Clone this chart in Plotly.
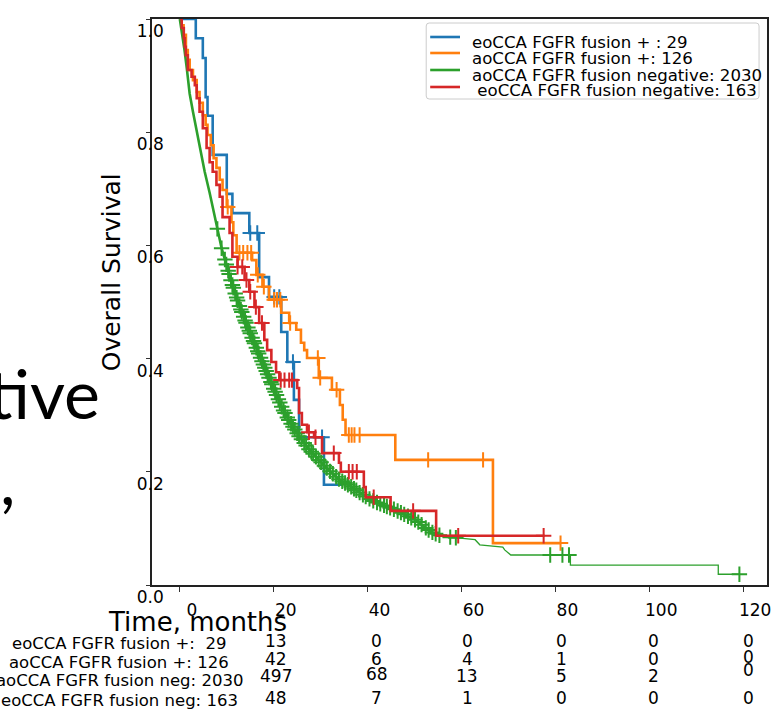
import numpy as np
import plotly.graph_objects as go

# ---------------- data ----------------
series_names = ["eoCCA FGFR fusion + : 29", "aoCCA FGFR fusion +: 126",
                "aoCCA FGFR fusion negative: 2030", " eoCCA FGFR fusion negative: 163"]

blue_t = [0, 3.4, 4.9, 5.5, 5.9, 7.0, 10.0, 11.2, 14.8, 16.9, 19.0, 21.6, 22.9, 24.3, 25.4, 30.7, 34.5]
blue_s = [1.0, 0.966, 0.931, 0.862, 0.829, 0.760, 0.691, 0.657, 0.622, 0.544, 0.509, 0.447, 0.394,
          0.327, 0.261, 0.177, 0.177]
blue_cens = [15.0, 16.5, 20.1, 21.2, 24.1, 30.3]

orange_t = [0, 0.4, 0.8, 1.3, 1.7, 2.1, 2.8, 3.6, 4.2, 4.9, 5.5, 5.9, 6.6, 7.2, 7.8, 8.5, 9.1, 10.0,
            11.0, 11.4, 12.1, 15.4, 16.3, 17.6, 19.0, 21.6, 23.3, 24.8, 25.8, 26.5, 27.1, 29.6, 32.4,
            34.1, 34.7, 35.3, 45.9, 66.7, 81.1]
orange_s = [1.0, 0.989, 0.972, 0.945, 0.928, 0.910, 0.892, 0.871, 0.852, 0.830, 0.813, 0.795, 0.777,
            0.754, 0.737, 0.716, 0.698, 0.668, 0.641, 0.618, 0.587, 0.574, 0.548, 0.527, 0.504, 0.481,
            0.463, 0.451, 0.428, 0.415, 0.401, 0.366, 0.345, 0.318, 0.292, 0.265, 0.221, 0.074, 0.074]
orange_cens = [10.2, 12.7, 13.5, 14.4, 15.2, 16.6, 17.9, 20.1, 20.7, 21.4, 23.5, 29.4, 29.9, 33.4,
               36.0, 36.6, 37.2, 38.3, 52.9, 64.6, 81.1]

green_t = [0, 0.5, 1.0, 1.5, 2.1, 2.8, 3.6, 4.4, 5.3, 6.35, 7.4, 8.9, 9.95, 11.2, 12.7, 14.2, 14.8,
           16.5, 18.4, 20.1, 21.8, 23.3, 25.4, 27.5, 29.6, 31.7, 33.9, 36.6, 38.7, 40.8, 43.4, 45.9,
           48.0, 50.2, 51.9, 53.5, 55.2, 57.1, 62.9, 63.9, 68.8, 69.2, 70.5, 83.2, 83.2, 114.7, 114.7,
           119.2]
green_s = [1.0, 0.975, 0.945, 0.912, 0.868, 0.836, 0.800, 0.765, 0.730, 0.693, 0.652, 0.595, 0.565,
           0.530, 0.493, 0.461, 0.449, 0.415, 0.378, 0.345, 0.313, 0.290, 0.263, 0.240, 0.221, 0.203,
           0.187, 0.173, 0.161, 0.150, 0.141, 0.133, 0.124, 0.115, 0.104, 0.094, 0.088, 0.085, 0.080,
           0.071, 0.067, 0.062, 0.053, 0.053, 0.035, 0.035, 0.019, 0.019]
green_cens = [8.0, 8.9, 9.6, 9.9, 10.3, 10.5, 10.9, 11.2, 11.4, 11.8, 12.1, 12.3, 12.7, 13.0, 13.2,
              13.6, 13.9, 14.1, 14.5, 14.8, 15.0, 15.4, 15.7, 15.9, 16.3, 16.6, 16.8, 17.2, 17.5, 17.8,
              18.1, 18.4, 18.7, 19.0, 19.4, 19.6, 20.0, 20.3, 20.6, 21.0, 21.3, 21.7, 22.1, 22.4, 22.9,
              23.2, 23.7, 24.1, 24.5, 25.0, 25.4, 25.9, 26.5, 26.9, 27.5, 28.0, 28.4, 29.0, 29.6, 30.1,
              30.8, 31.3, 32.0, 32.6, 33.3, 33.9, 34.6, 35.2, 35.8, 36.5, 37.1, 37.6, 38.3, 39.0, 39.6,
              40.4, 41.2, 42.0, 42.7, 43.5, 44.1, 44.8, 45.6, 46.4, 47.1, 47.8, 48.6, 49.3, 50.1, 50.8,
              51.5, 52.4, 53.0, 53.8, 54.5, 55.3, 57.6, 58.8, 78.9, 81.5, 82.9, 119.2]

red_t = [0, 0.4, 0.85, 1.06, 1.27, 1.7, 2.5, 3.2, 3.6, 4.2, 4.9, 5.7, 6.35, 7.0, 7.8, 8.5, 9.1, 10.6,
         11.2, 12.3, 13.8, 14.8, 15.9, 16.9, 18.0, 18.6, 19.5, 20.5, 21.2, 25.0, 25.4, 26.0, 27.1, 28.6,
         30.3, 33.9, 34.3, 39.2, 39.6, 44.9, 54.6, 77.7]
red_s = [1.0, 0.984, 0.966, 0.951, 0.936, 0.910, 0.898, 0.883, 0.860, 0.836, 0.807, 0.772, 0.747, 0.730,
         0.707, 0.686, 0.650, 0.622, 0.580, 0.562, 0.539, 0.518, 0.491, 0.463, 0.433, 0.415, 0.394,
         0.376, 0.362, 0.348, 0.304, 0.283, 0.270, 0.261, 0.233, 0.216, 0.200, 0.173, 0.155, 0.131,
         0.087, 0.087]
red_cens = [12.3, 13.3, 14.2, 15.0, 16.2, 17.5, 21.5, 22.3, 23.3, 23.9, 27.5, 28.9, 32.8, 36.0, 36.8,
            37.7, 41.3, 49.7, 59.3, 77.5]

x_ticks = [0, 20, 40, 60, 80, 100, 120]
y_ticks = [0.0, 0.2, 0.4, 0.6, 0.8, 1.0]
y_ticklabels = ["0.0", "0.2", "0.4", "0.6", "0.8", "1.0"]

risk_labels = ["eoCCA FGFR fusion +:\u00a0\u00a029", "aoCCA FGFR fusion +: 126",
               "aoCCA FGFR fusion neg: 2030", "eoCCA FGFR fusion neg: 163"]
risk_times = [20, 40, 60, 80, 100, 120]
risk_eo_pos = [13, 0, 0, 0, 0, 0]
risk_ao_pos = [42, 6, 4, 1, 0, 0]
risk_ao_neg = [497, 68, 13, 5, 2, 0]
risk_eo_neg = [48, 7, 1, 0, 0, 0]

# ---------------- styling / layout helpers ----------------
BLUE, ORANGE, GREEN, RED = "#1f77b4", "#ff7f0e", "#2ca02c", "#d62728"
FONT = "DejaVu Sans"
W, H = 782, 710
ML, MR, MT, MB = 152, 11, 19, 125
PW, PH = W - ML - MR, H - MT - MB


def fx(xpix):
    return (xpix - ML) / PW


def fy(ypix):
    return (H - MB - ypix) / PH


def step_lookup(ts, ss, tc):
    idx = np.searchsorted(np.array(ts), np.array(tc), side="right") - 1
    return [ss[i] for i in idx]


fig = go.Figure()


def add_line(t, s, color, width=2.6, shape="hv"):
    fig.add_trace(go.Scatter(x=t, y=s, mode="lines", line=dict(color=color, width=width, shape=shape),
                             showlegend=False, hoverinfo="skip"))


def add_cens(tc, sc, color):
    fig.add_trace(go.Scatter(x=tc, y=sc, mode="markers",
                             marker=dict(symbol="cross-thin", size=11, color=color,
                                         line=dict(color=color, width=2)),
                             showlegend=False, hoverinfo="skip"))


add_line(blue_t, blue_s, BLUE)
add_cens(blue_cens, step_lookup(blue_t, blue_s, blue_cens), BLUE)
add_line(orange_t, orange_s, ORANGE)
add_cens(orange_cens, step_lookup(orange_t, orange_s, orange_cens), ORANGE)
split = green_t.index(57.1)
add_line(green_t[:split + 1], green_s[:split + 1], GREEN, shape="linear")
add_line(green_t[split:], green_s[split:], GREEN, width=1.3, shape="linear")
add_cens(green_cens, list(np.interp(green_cens, green_t, green_s)), GREEN)
add_line(red_t, red_s, RED)
add_cens(red_cens, step_lookup(red_t, red_s, red_cens), RED)

ann = []
shapes = []

# manual legend box
lx0, lx1, ly0, ly1, r = fx(428), fx(763), fy(99), fy(23), 3
rx, ry = r / PW, r / PH
path = (f"M {lx0+rx},{ly1} L {lx1-rx},{ly1} Q {lx1},{ly1} {lx1},{ly1-ry} "
        f"L {lx1},{ly0+ry} Q {lx1},{ly0} {lx1-rx},{ly0} L {lx0+rx},{ly0} "
        f"Q {lx0},{ly0} {lx0},{ly0+ry} L {lx0},{ly1-ry} Q {lx0},{ly1} {lx0+rx},{ly1} Z")
shapes.append(dict(type="path", xref="paper", yref="paper", path=path,
                   line=dict(color="#cccccc", width=1), fillcolor="rgba(255,255,255,0.85)"))
leg_line_y = [37, 53, 70, 87]
leg_text_y = [43, 59, 75, 90]
for name, col, yl, yt in zip(series_names, [BLUE, ORANGE, GREEN, RED], leg_line_y, leg_text_y):
    shapes.append(dict(type="line", xref="paper", yref="paper", x0=fx(432), x1=fx(462),
                       y0=fy(yl), y1=fy(yl), line=dict(color=col, width=2.6)))
    ann.append(dict(text=name.replace(" ", "\u00a0") if name.startswith(" ") else name,
                    xref="paper", yref="paper", x=fx(472), y=fy(yt),
                    xanchor="left", yanchor="middle", showarrow=False,
                    font=dict(family=FONT, size=16.6, color="black")))

# axis titles
ann.append(dict(text="Time, months", xref="paper", yref="paper", x=fx(198), y=fy(622),
                xanchor="center", yanchor="middle", showarrow=False,
                font=dict(family=FONT, size=26, color="black")))
ann.append(dict(text="Overall Survival", xref="paper", yref="paper", x=fx(111), y=fy(272),
                xanchor="center", yanchor="middle", showarrow=False, textangle=-90,
                font=dict(family=FONT, size=25, color="black")))

# at-risk table
label_y = [643, 662, 680, 700]
num_y = [641, 659, 676, 698]
col_xshift = [2, 9, 6, 6, 4, 5]
y_override = {(5, 1): 657, (5, 2): 670, (1, 2): 674}
for r_i, (lab, counts) in enumerate(zip(risk_labels, [risk_eo_pos, risk_ao_pos, risk_ao_neg, risk_eo_neg])):
    ann.append(dict(text=lab, xref="paper", yref="paper", x=fx(119), y=fy(label_y[r_i]),
                    xanchor="center", yanchor="middle", showarrow=False,
                    font=dict(family=FONT, size=16.5, color="black")))
    for c_i, (tt, cnt) in enumerate(zip(risk_times, counts)):
        yy = y_override.get((c_i, r_i), num_y[r_i])
        ann.append(dict(text=str(cnt), xref="x", yref="paper", x=tt, xshift=col_xshift[c_i],
                        y=fy(yy), xanchor="center", yanchor="middle", showarrow=False,
                        font=dict(family=FONT, size=17, color="black")))

# slide text fragments at the left edge
ann.append(dict(text="tive", xref="paper", yref="paper", x=fx(102), y=fy(392),
                xanchor="right", yanchor="middle", showarrow=False,
                font=dict(family="Lato", size=68, color="black")))
ann.append(dict(text=",", xref="paper", yref="paper", x=fx(16), y=fy(478),
                xanchor="right", yanchor="middle", showarrow=False,
                font=dict(family="Lato", size=68, color="black")))

fig.update_layout(
    width=W, height=H, margin=dict(l=ML, r=MR, t=MT, b=MB, pad=0),
    paper_bgcolor="white", plot_bgcolor="white",
    annotations=ann, shapes=shapes, showlegend=False,
    xaxis=dict(range=[(ML - 180) / 4.725, (W - MR - 180) / 4.725], tickvals=x_ticks,
               ticks="outside", ticklen=5, tickwidth=1.3, tickcolor="#333",
               showline=True, linecolor="#222", linewidth=1.5, mirror=True,
               showgrid=False, zeroline=False, ticklabelshift=12, ticklabelstandoff=4,
               ticklabeloverflow="allow",
               tickfont=dict(family=FONT, size=17, color="black")),
    yaxis=dict(range=[0, 1], tickvals=y_ticks, ticktext=y_ticklabels,
               ticks="outside", ticklen=4, tickwidth=1.3, tickcolor="#333",
               showline=True, linecolor="#222", linewidth=1.5, mirror=True,
               showgrid=False, zeroline=False, ticklabelshift=12, ticklabelstandoff=-21,
               ticklabeloverflow="allow",
               tickfont=dict(family=FONT, size=17, color="black")),
)

fig.write_html("out.html", config={"displayModeBar": False},
               post_script="document.body.style.margin='0px';")
